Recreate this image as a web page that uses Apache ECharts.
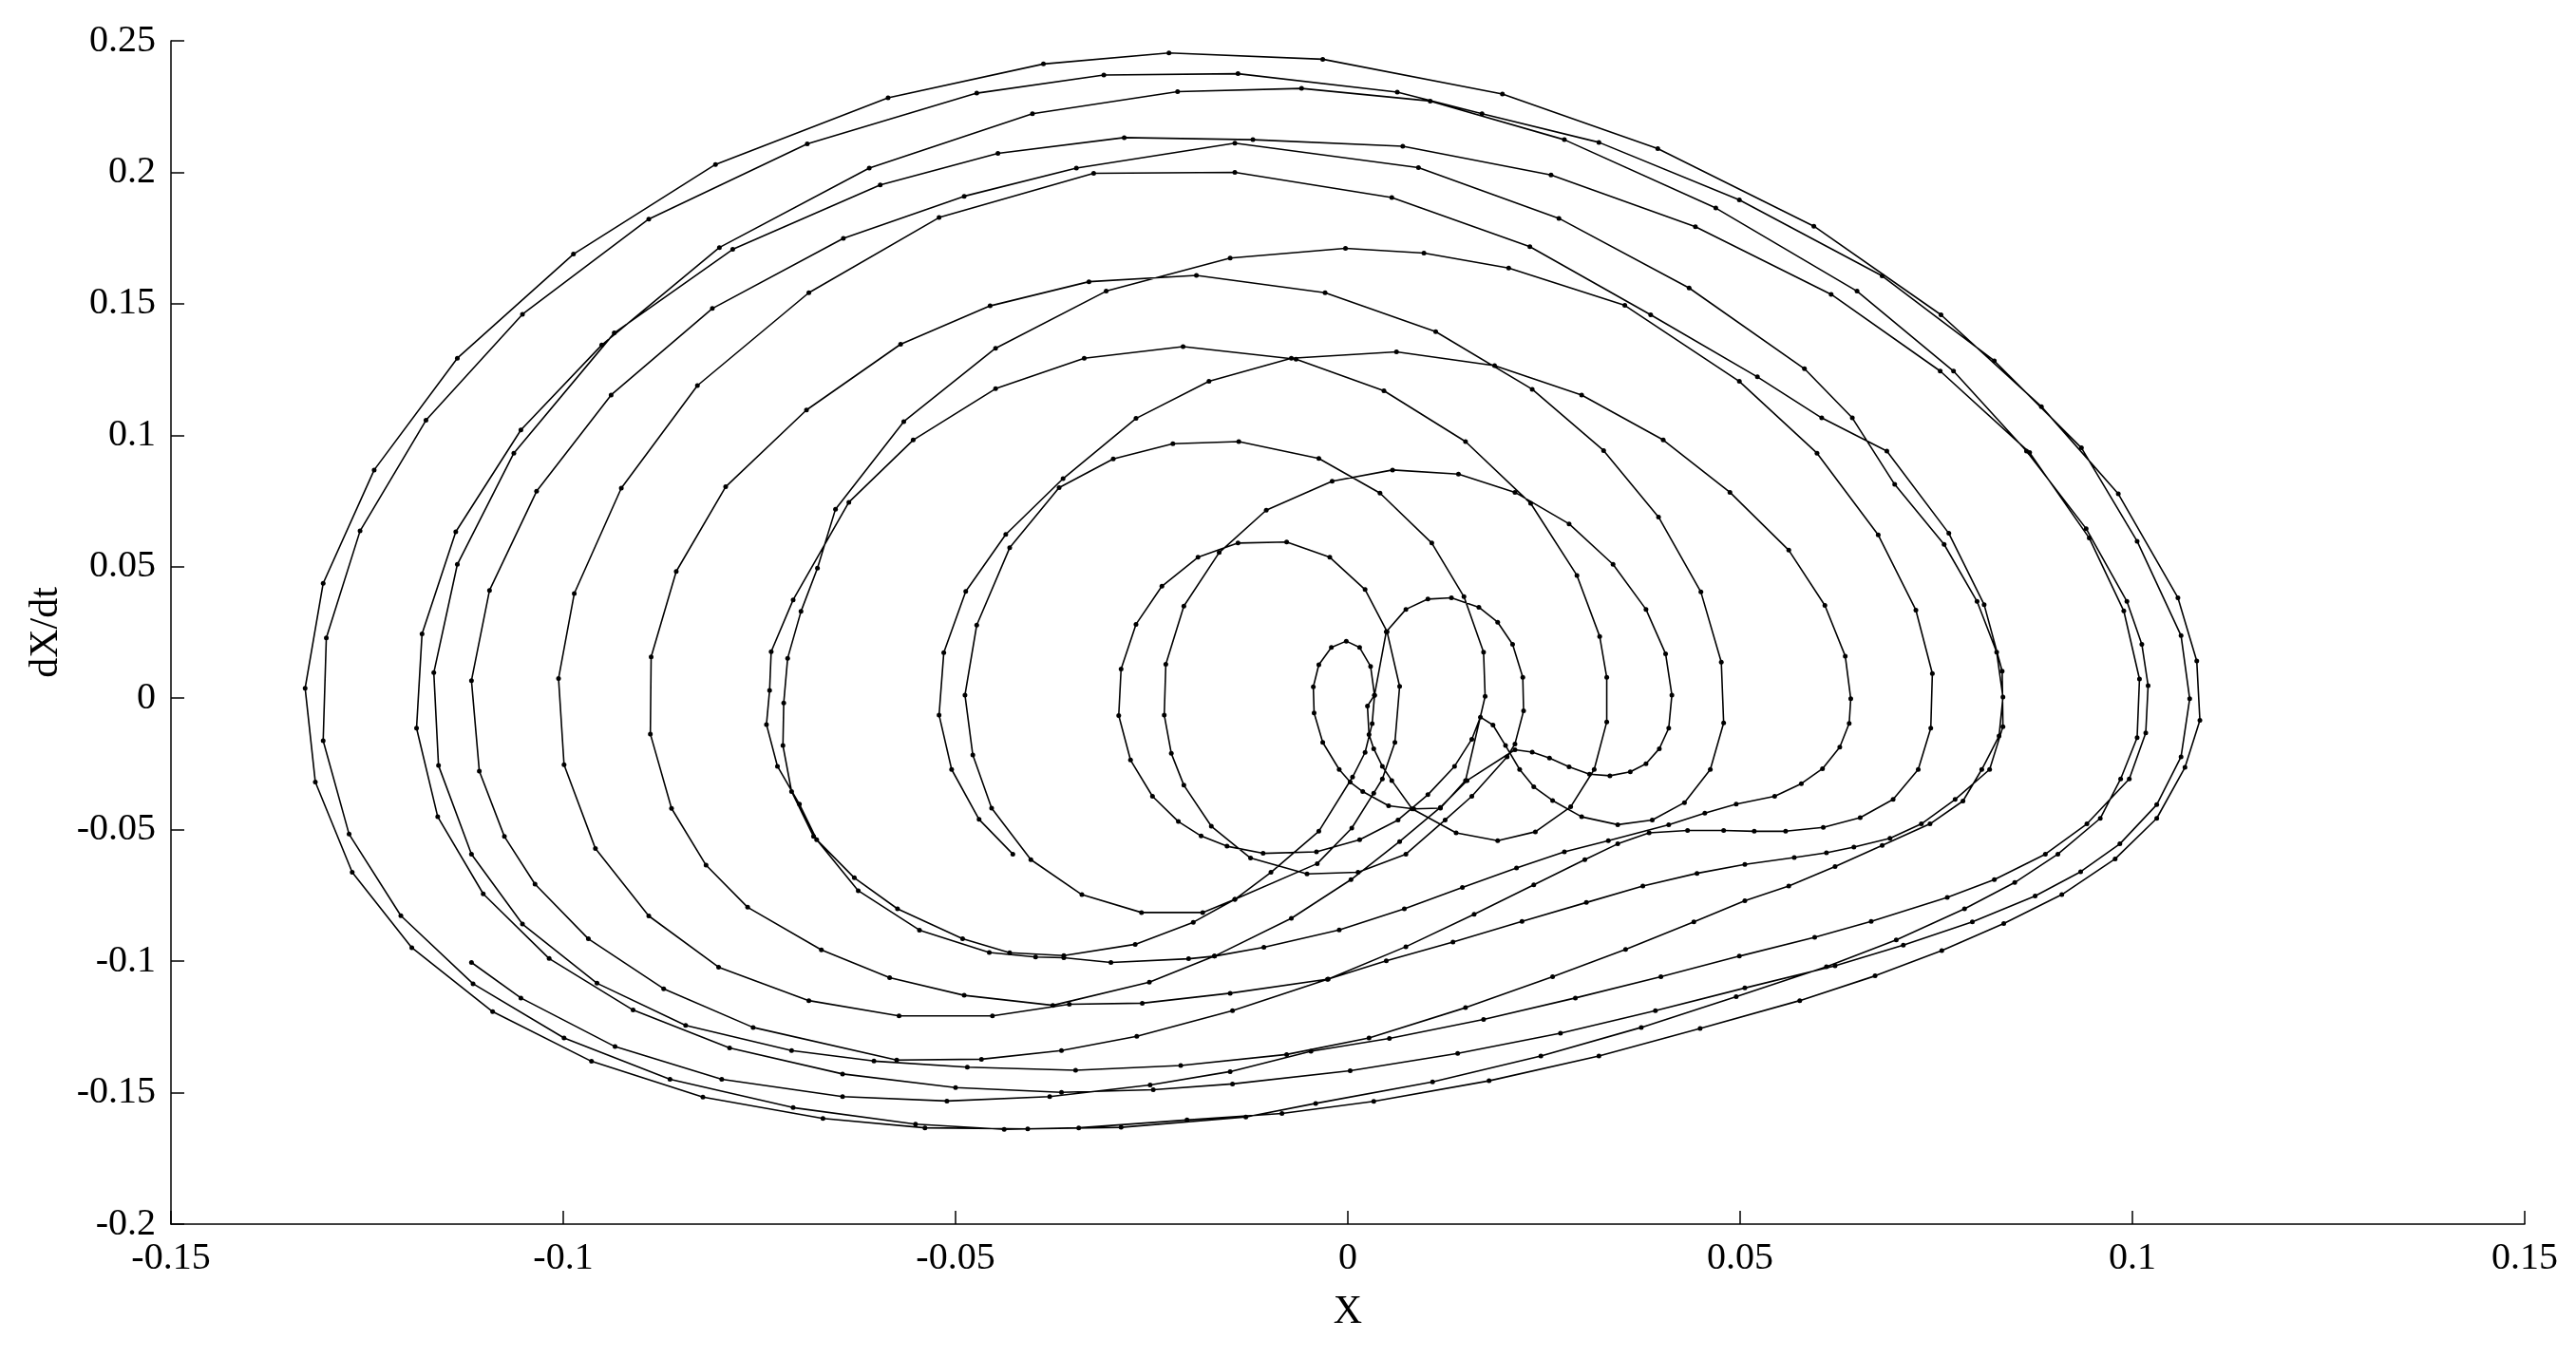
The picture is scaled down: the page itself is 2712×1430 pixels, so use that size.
<!DOCTYPE html>
<html>
<head>
<meta charset="utf-8">
<script src="https://cdn.jsdelivr.net/npm/echarts@6/dist/echarts.min.js"></script>
<style>
  html, body { margin: 0; padding: 0; background: #fff; }
  #chart { width: 2712px; height: 1430px; }
</style>
</head>
<body>
<div id="chart"></div>
<script>
// phase portrait, points: [X, dX/dt], in time order
var firstLoop = [[-0.0427,-0.0593],[-0.0470,-0.0461],[-0.0505,-0.0271],[-0.0521,-0.0064],[-0.0515,0.0173],[-0.0487,0.0406],[-0.0436,0.0623],[-0.0363,0.0835],[-0.0270,0.1064],[-0.0177,0.1205],[-0.0072,0.1293],[0.0062,0.1317],[0.0187,0.1265],[0.0298,0.1153],[0.0402,0.0982],[0.0487,0.0783],[0.0562,0.0563],[0.0608,0.0353],[0.0634,0.0160],[0.0641,-0.0002],[0.0639,-0.0096],[0.0627,-0.0186],[0.0605,-0.0268],[0.0578,-0.0325],[0.0544,-0.0373],[0.0495,-0.0403],[0.0455,-0.0437],[0.0409,-0.0481],[0.0332,-0.0542],[0.0276,-0.0584],[0.0215,-0.0646],[0.0146,-0.0720],[0.0072,-0.0801],[-0.0011,-0.0881],[-0.0107,-0.0947],[-0.0170,-0.0981],[-0.0203,-0.0991],[-0.0302,-0.1005],[-0.0362,-0.0987],[-0.0398,-0.0984],[-0.0457,-0.0967],[-0.0546,-0.0882],[-0.0624,-0.0732],[-0.0677,-0.0538],[-0.0699,-0.0403],[-0.0727,-0.0259],[-0.0741,-0.0100],[-0.0737,0.0030],[-0.0735,0.0177],[-0.0707,0.0374]];
var loopT9 = [[-0.0636,0.0745],[-0.0554,0.0982],[-0.0449,0.1177],[-0.0336,0.1293],[-0.0210,0.1337],[-0.0066,0.1289],[0.0046,0.1169],[0.0150,0.0976],[0.0233,0.0741],[0.0292,0.0467],[0.0321,0.0235],[0.0330,0.0079],[0.0330,-0.0090],[0.0314,-0.0271]];
var loopT14 = [[0.0284,-0.0413],[0.0239,-0.0508],[0.0191,-0.0542],[0.0138,-0.0512],[0.0082,-0.0421],[0.0056,-0.0313],[0.0044,-0.0259],[0.0033,-0.0192],[0.0027,-0.0138],[0.0025,-0.0030],[0.0034,0.0012],[0.0049,0.0253],[0.0074,0.0338],[0.0102,0.0377],[0.0132,0.0382],[0.0167,0.0346],[0.0191,0.0289],[0.0210,0.0205],[0.0223,0.0079],[0.0224,-0.0048],[0.0213,-0.0174],[0.0203,-0.0223],[0.0158,-0.0373],[0.0124,-0.0463],[0.0074,-0.0593],[0.0013,-0.0662],[-0.0052,-0.0668],[-0.0124,-0.0608],[-0.0174,-0.0487],[-0.0209,-0.0331]];
var loopT12 = [[-0.0225,-0.0210],[-0.0234,-0.0064],[-0.0232,0.0129],[-0.0209,0.0350],[-0.0164,0.0554],[-0.0104,0.0715],[-0.0020,0.0825],[0.0057,0.0868],[0.0141,0.0852],[0.0213,0.0783],[0.0282,0.0663],[0.0338,0.0509],[0.0380,0.0338],[0.0405,0.0169],[0.0413,0.0012],[0.0409,-0.0114],[0.0397,-0.0192],[0.0380,-0.0249],[0.0360,-0.0280],[0.0334,-0.0295],[0.0308,-0.0289],[0.0282,-0.0261],[0.0257,-0.0228],[0.0235,-0.0205],[0.0213,-0.0196],[0.0152,-0.0313],[0.0118,-0.0415],[0.0066,-0.0545],[0.0004,-0.0690],[-0.0072,-0.0837],[-0.0170,-0.0981],[-0.0253,-0.1080],[-0.0376,-0.1168],[-0.0489,-0.1130],[-0.0584,-0.1063],[-0.0671,-0.0957]];
var loopT7 = [[-0.0765,-0.0795],[-0.0818,-0.0635],[-0.0862,-0.0419],[-0.0889,-0.0136],[-0.0888,0.0157],[-0.0856,0.0482],[-0.0793,0.0804],[-0.0690,0.1096],[-0.0570,0.1346],[-0.0456,0.1492],[-0.0330,0.1584],[-0.0193,0.1608],[-0.0029,0.1542],[0.0112,0.1394],[0.0235,0.1175],[0.0326,0.0942],[0.0396,0.0689],[0.0450,0.0404],[0.0476,0.0137],[0.0479,-0.0094],[0.0462,-0.0271],[0.0429,-0.0397],[0.0388,-0.0463],[0.0344,-0.0481],[0.0298,-0.0451],[0.0261,-0.0389],[0.0237,-0.0337],[0.0219,-0.0271],[0.0201,-0.0180],[0.0185,-0.0102]];
var loopT13 = [[0.0169,-0.0072],[0.0158,-0.0156],[0.0136,-0.0259],[0.0102,-0.0367],[0.0064,-0.0463],[0.0015,-0.0538],[-0.0040,-0.0584],[-0.0108,-0.0590],[-0.0154,-0.0563],[-0.0187,-0.0524],[-0.0216,-0.0469],[-0.0249,-0.0373],[-0.0277,-0.0235],[-0.0292,-0.0066],[-0.0289,0.0111],[-0.0270,0.0281],[-0.0237,0.0426],[-0.0191,0.0536],[-0.0140,0.0590],[-0.0078,0.0594],[-0.0023,0.0536],[0.0022,0.0413],[0.0050,0.0253],[0.0066,0.0045],[0.0060,-0.0168],[0.0044,-0.0307],[0.0033,-0.0361],[0.0005,-0.0494],[-0.0039,-0.0629],[-0.0144,-0.0765],[-0.0185,-0.0815],[-0.0263,-0.0815],[-0.0339,-0.0747],[-0.0404,-0.0614],[-0.0454,-0.0418],[-0.0478,-0.0216]];
var loopT11 = [[-0.0488,0.0012],[-0.0473,0.0278],[-0.0431,0.0572],[-0.0368,0.0801],[-0.0299,0.0910],[-0.0223,0.0968],[-0.0139,0.0976],[-0.0037,0.0912],[0.0041,0.0780],[0.0107,0.0590],[0.0148,0.0386],[0.0173,0.0175],[0.0175,0.0007]];
var loopT15 = [[0.0150,-0.0313],[0.0118,-0.0418],[0.0084,-0.0421],[0.0052,-0.0409],[0.0019,-0.0355],[0.0003,-0.0319],[-0.0011,-0.0271],[-0.0032,-0.0168],[-0.0043,-0.0056],[-0.0044,0.0043],[-0.0037,0.0127],[-0.0021,0.0193],[-0.0002,0.0217],[0.0015,0.0193],[0.0029,0.0121],[0.0034,0.0011],[0.0031,-0.0097],[0.0022,-0.0206],[0.0006,-0.0300],[-0.0037,-0.0506]];
var loopT8 = [[-0.0098,-0.0662],[-0.0144,-0.0765],[-0.0197,-0.0852],[-0.0271,-0.0936],[-0.0362,-0.0979],[-0.0431,-0.0968],[-0.0491,-0.0915],[-0.0574,-0.0801],[-0.0629,-0.0683],[-0.0681,-0.0526],[-0.0709,-0.0355],[-0.0720,-0.0180],[-0.0719,-0.0018],[-0.0714,0.0152],[-0.0697,0.0330],[-0.0676,0.0495],[-0.0653,0.0719],[-0.0566,0.1052],[-0.0449,0.1331],[-0.0308,0.1548],[-0.0150,0.1674],[-0.0003,0.1711],[0.0097,0.1693],[0.0205,0.1636],[0.0353,0.1494],[0.0499,0.1205],[0.0598,0.0932],[0.0676,0.0621],[0.0724,0.0335],[0.0745,0.0094],[0.0743,-0.0114],[0.0727,-0.0271],[0.0695,-0.0385],[0.0653,-0.0454],[0.0606,-0.0491],[0.0558,-0.0506],[0.0518,-0.0506],[0.0479,-0.0503],[0.0433,-0.0503],[0.0384,-0.0512],[0.0344,-0.0554],[0.0302,-0.0614],[0.0237,-0.0710],[0.0161,-0.0822],[0.0074,-0.0945],[-0.0025,-0.1068],[-0.0150,-0.1122],[-0.0262,-0.1160],[-0.0355,-0.1164],[-0.0453,-0.1208],[-0.0572,-0.1208],[-0.0687,-0.1150]];
var loopT6 = [[-0.0802,-0.1023],[-0.0891,-0.0828],[-0.0959,-0.0572],[-0.0999,-0.0253],[-0.1006,0.0075],[-0.0986,0.0398],[-0.0926,0.0799],[-0.0829,0.1189],[-0.0687,0.1542],[-0.0521,0.1828],[-0.0324,0.1996],[-0.0144,0.2000],[0.0056,0.1904],[0.0232,0.1717],[0.0386,0.1458],[0.0522,0.1222],[0.0604,0.1066],[0.0687,0.0940],[0.0766,0.0627],[0.0811,0.0356],[0.0834,0.0103],[0.0835,-0.0108],[0.0818,-0.0271],[0.0774,-0.0385],[0.0731,-0.0478],[0.0691,-0.0533],[0.0645,-0.0566],[0.0610,-0.0588],[0.0569,-0.0606],[0.0506,-0.0632],[0.0445,-0.0666],[0.0376,-0.0714],[0.0304,-0.0777],[0.0222,-0.0849],[0.0134,-0.0927],[0.0049,-0.0999],[-0.0026,-0.1069],[-0.0147,-0.1188],[-0.0269,-0.1286],[-0.0365,-0.1340],[-0.0467,-0.1373],[-0.0575,-0.1376],[-0.0758,-0.1252],[-0.0872,-0.1105],[-0.0968,-0.0915],[-0.1036,-0.0707],[-0.1075,-0.0526]];
var loopT5 = [[-0.1107,-0.0277],[-0.1117,0.0067],[-0.1094,0.0410],[-0.1034,0.0787],[-0.0939,0.1153],[-0.0810,0.1482],[-0.0643,0.1749],[-0.0489,0.1909],[-0.0346,0.2016],[-0.0144,0.2111],[0.0090,0.2018],[0.0269,0.1825],[0.0435,0.1560],[0.0582,0.1253],[0.0643,0.1066],[0.0697,0.0813],[0.0760,0.0585],[0.0802,0.0368],[0.0827,0.0175],[0.0835,0.0004],[0.0830,-0.0144],[0.0808,-0.0271],[0.0784,-0.0391],[0.0742,-0.0478],[0.0681,-0.0560],[0.0621,-0.0640],[0.0562,-0.0714],[0.0506,-0.0770],[0.0441,-0.0851],[0.0354,-0.0955],[0.0261,-0.1059],[0.0150,-0.1177],[0.0027,-0.1292],[-0.0078,-0.1355],[-0.0213,-0.1397],[-0.0347,-0.1415],[-0.0485,-0.1403],[-0.0604,-0.1380],[-0.0709,-0.1340],[-0.0844,-0.1244],[-0.0957,-0.1084],[-0.1052,-0.0859],[-0.1117,-0.0593]];
var loopT4 = [[-0.1159,-0.0256],[-0.1165,0.0097],[-0.1135,0.0509],[-0.1063,0.0932],[-0.0935,0.1389],[-0.0784,0.1707],[-0.0596,0.1952],[-0.0446,0.2072],[-0.0285,0.2132],[-0.0121,0.2124],[0.0070,0.2099],[0.0259,0.1990],[0.0443,0.1793],[0.0616,0.1536],[0.0755,0.1244],[0.0869,0.0934],[0.0945,0.0609],[0.0989,0.0332],[0.1009,0.0073],[0.1006,-0.0150],[0.0985,-0.0307],[0.0959,-0.0457],[0.0905,-0.0593],[0.0850,-0.0701],[0.0786,-0.0801],[0.0699,-0.0919],[0.0610,-0.1021],[0.0495,-0.1135],[0.0374,-0.1252],[0.0246,-0.1361],[0.0108,-0.1459],[-0.0041,-0.1541],[-0.0130,-0.1593],[-0.0289,-0.1632],[-0.0408,-0.1638],[-0.0539,-0.1634],[-0.0669,-0.1598],[-0.0822,-0.1517],[-0.0964,-0.1381],[-0.1090,-0.1192],[-0.1193,-0.0949],[-0.1269,-0.0662],[-0.1316,-0.0319]];
var loopT1 = [[-0.1329,0.0038],[-0.1306,0.0437],[-0.1241,0.0868],[-0.1135,0.1293],[-0.0987,0.1689],[-0.0806,0.2030],[-0.0586,0.2283],[-0.0388,0.2412],[-0.0228,0.2454],[-0.0032,0.2430],[0.0197,0.2298],[0.0395,0.2090],[0.0594,0.1795],[0.0756,0.1458],[0.0884,0.1109],[0.0982,0.0777],[0.1058,0.0382],[0.1082,0.0142],[0.1086,-0.0084],[0.1067,-0.0263],[0.1031,-0.0457],[0.0978,-0.0611],[0.0910,-0.0747],[0.0836,-0.0857],[0.0757,-0.0960],[0.0672,-0.1056],[0.0576,-0.1150],[0.0449,-0.1256],[0.0320,-0.1361],[0.0180,-0.1455],[0.0033,-0.1533],[-0.0084,-0.1579],[-0.0205,-0.1604],[-0.0343,-0.1634],[-0.0438,-0.1640],[-0.0551,-0.1620],[-0.0707,-0.1557],[-0.0864,-0.1449],[-0.0999,-0.1292],[-0.1115,-0.1086],[-0.1207,-0.0827],[-0.1273,-0.0517],[-0.1306,-0.0162]];
var loopT2 = [[-0.1302,0.0229],[-0.1259,0.0636],[-0.1175,0.1057],[-0.1052,0.1460],[-0.0891,0.1822],[-0.0689,0.2108],[-0.0473,0.2301],[-0.0311,0.2370],[-0.0140,0.2375],[0.0063,0.2305],[0.0171,0.2223],[0.0320,0.2114],[0.0499,0.1895],[0.0681,0.1606],[0.0824,0.1283],[0.0935,0.0952],[0.1006,0.0597],[0.1062,0.0238],[0.1073,-0.0002],[0.1062,-0.0223],[0.1031,-0.0405],[0.0984,-0.0554],[0.0934,-0.0660],[0.0876,-0.0752],[0.0796,-0.0851],[0.0708,-0.0939],[0.0621,-0.1018],[0.0506,-0.1102],[0.0392,-0.1188],[0.0271,-0.1274],[0.0140,-0.1351],[0.0003,-0.1417],[-0.0147,-0.1467],[-0.0248,-0.1489],[-0.0365,-0.1499],[-0.0500,-0.1481],[-0.0644,-0.1429],[-0.0788,-0.1330],[-0.0911,-0.1186],[-0.1018,-0.0990],[-0.1102,-0.0744],[-0.1160,-0.0451],[-0.1187,-0.0114]];
var loopT3 = [[-0.1180,0.0245],[-0.1137,0.0633],[-0.1054,0.1020],[-0.0951,0.1343],[-0.0801,0.1714],[-0.0610,0.2016],[-0.0402,0.2223],[-0.0217,0.2307],[-0.0059,0.2319],[0.0105,0.2271],[0.0276,0.2124],[0.0469,0.1864],[0.0649,0.1548],[0.0772,0.1244],[0.0865,0.0940],[0.0941,0.0645],[0.0993,0.0368],[0.1012,0.0205],[0.1020,0.0048],[0.1017,-0.0132],[0.0996,-0.0307],[0.0942,-0.0478],[0.0889,-0.0593],[0.0824,-0.0690],[0.0764,-0.0758],[0.0667,-0.0849],[0.0595,-0.0909],[0.0499,-0.0981],[0.0399,-0.1059],[0.0290,-0.1140],[0.0173,-0.1222],[0.0053,-0.1294],[-0.0047,-0.1343],[-0.0150,-0.1420],[-0.0252,-0.1471],[-0.0380,-0.1515],[-0.0511,-0.1532],[-0.0644,-0.1515],[-0.0798,-0.1449],[-0.0934,-0.1325],[-0.1054,-0.1140],[-0.1117,-0.1005]];

var xRange = [-0.15, 0.15], xStep = 0.05;
var yRange = [-0.2, 0.25], yStep = 0.05;

var trajectory = [].concat(firstLoop, loopT9, loopT14, loopT12, loopT7, loopT13, loopT11,
  loopT15, loopT8, loopT6, loopT5, loopT4, loopT1, loopT2, loopT3);

var font = 'Liberation Serif, Times New Roman, serif';
var chart = echarts.init(document.getElementById('chart'));
chart.setOption({
  animation: false,
  backgroundColor: '#fff',
  grid: { left: 180, right: 54, top: 43, bottom: 141 },
  xAxis: {
    type: 'value', min: xRange[0], max: xRange[1], interval: xStep,
    name: 'X', nameLocation: 'middle', nameGap: 72,
    nameTextStyle: { fontFamily: font, fontSize: 42, color: '#000' },
    axisLine: { onZero: false, lineStyle: { color: '#000', width: 1.5 } },
    axisTick: { inside: true, length: 14, lineStyle: { color: '#000', width: 1.5 } },
    axisLabel: { fontFamily: font, fontSize: 40, color: '#000', margin: 16 },
    splitLine: { show: false }
  },
  yAxis: {
    type: 'value', min: yRange[0], max: yRange[1], interval: yStep,
    name: 'dX/dt', nameLocation: 'middle', nameGap: 108,
    nameTextStyle: { fontFamily: font, fontSize: 42, color: '#000' },
    axisLine: { show: true, onZero: false, lineStyle: { color: '#000', width: 1.5 } },
    axisTick: { show: true, inside: true, length: 14, lineStyle: { color: '#000', width: 1.5 } },
    axisLabel: { fontFamily: font, fontSize: 40, color: '#000', margin: 16 },
    splitLine: { show: false }
  },
  series: [{
    type: 'line', data: trajectory, symbol: 'circle', symbolSize: 5,
    itemStyle: { color: '#000' },
    lineStyle: { color: '#000', width: 1.6 },
    silent: true
  }]
});
</script>
</body>
</html>
